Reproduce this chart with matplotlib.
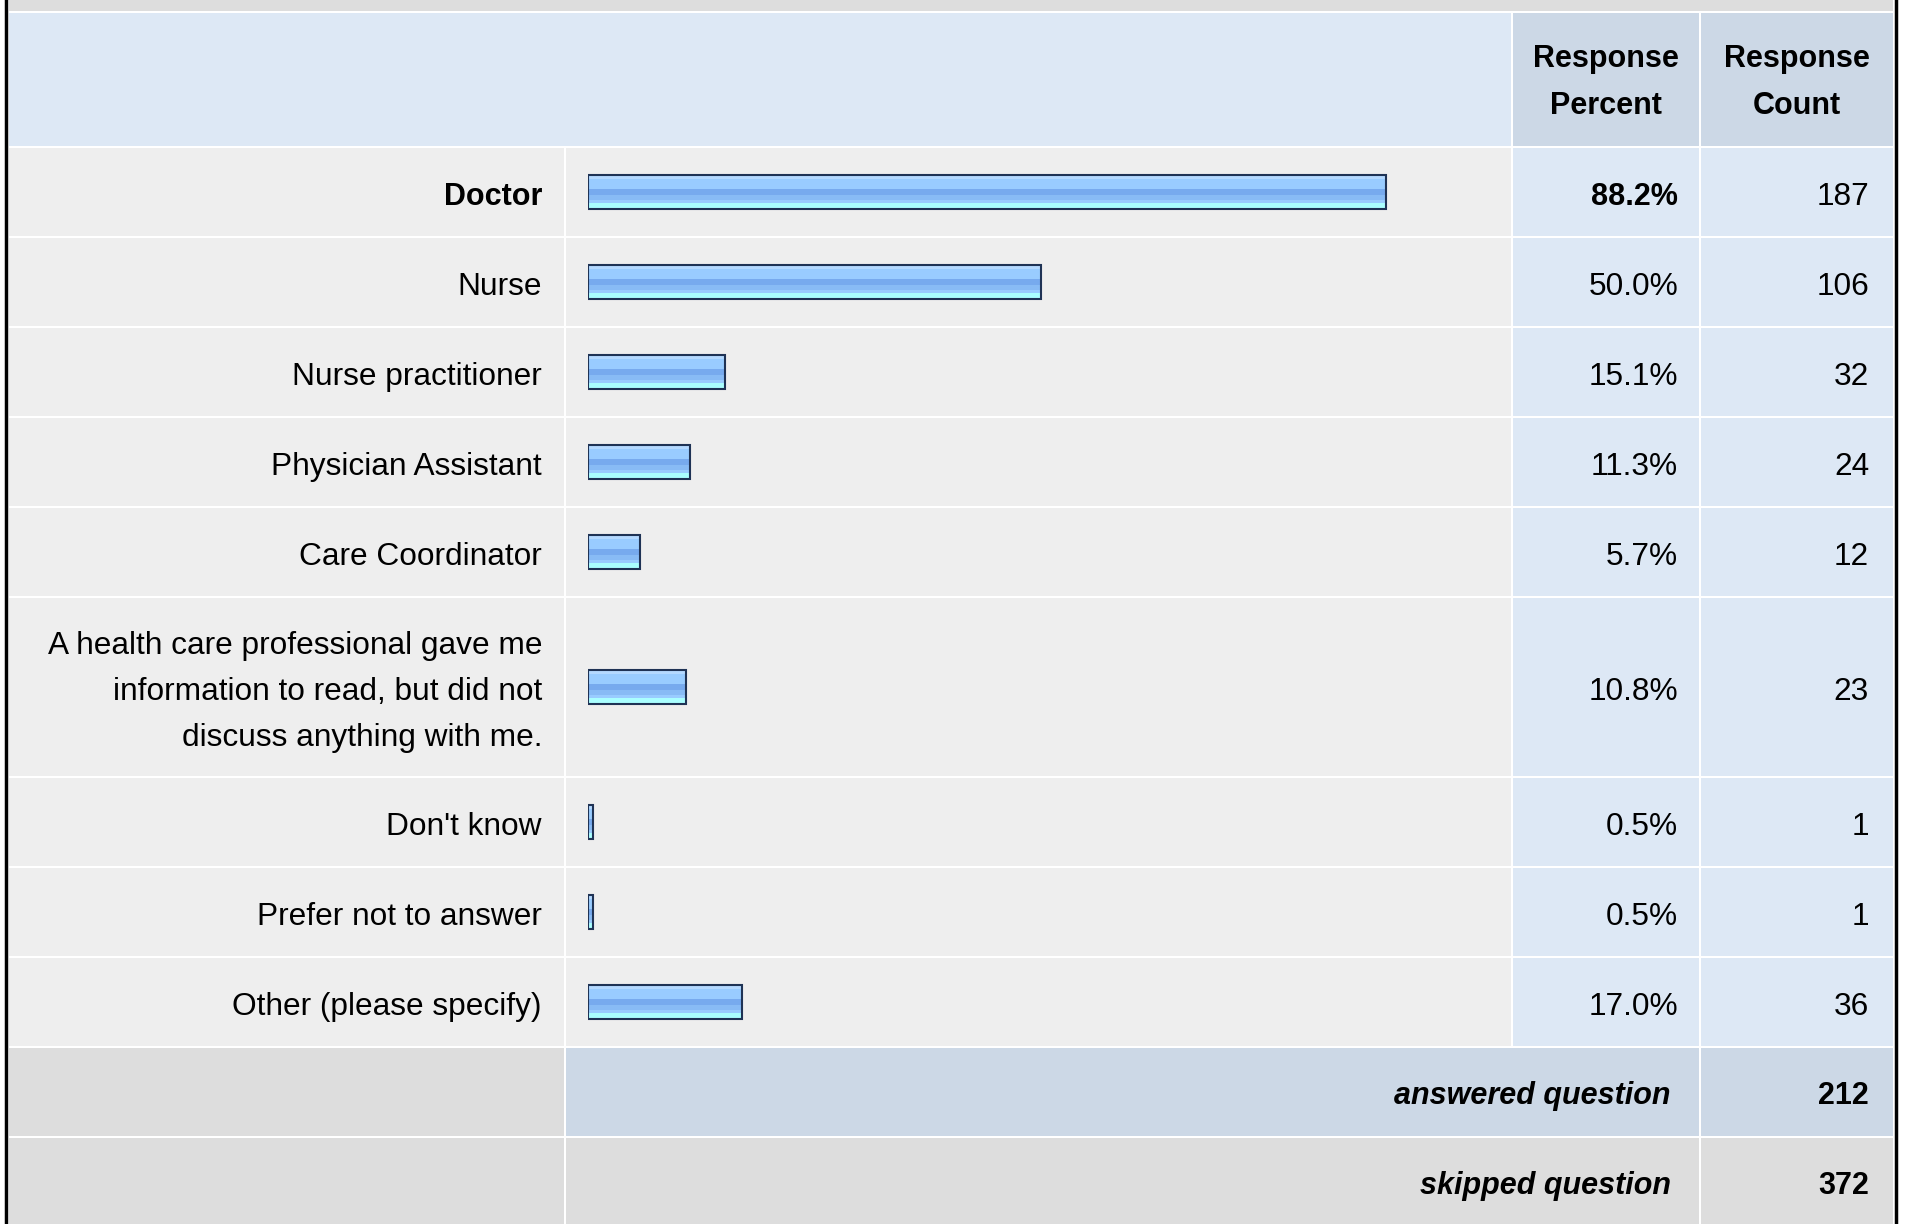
import numpy as np
import matplotlib
matplotlib.use("Agg")
import matplotlib.pyplot as plt
from matplotlib.patches import Rectangle
from matplotlib.colors import to_rgb

# Survey answers
labels = [
    "Doctor",
    "Nurse",
    "Nurse practitioner",
    "Physician Assistant",
    "Care Coordinator",
    "A health care professional gave me\ninformation to read, but did not\ndiscuss anything with me.",
    "Don't know",
    "Prefer not to answer",
    "Other (please specify)",
]
percents = [88.2, 50.0, 15.1, 11.3, 5.7, 10.8, 0.5, 0.5, 17.0]
counts = [187, 106, 32, 24, 12, 23, 1, 1, 36]
row_units = [1, 1, 1, 1, 1, 2, 1, 1, 1]
header_cols = ["Response\nPercent", "Response\nCount"]
answered = 212
skipped = 372

# Layout in pixels
W, H = 1907, 1224
X_LEFT, X_LABEL, X_PCT, X_CNT, X_RIGHT = 8, 565, 1512, 1700, 1894
Y_TOP, Y_HEAD, UNIT = 12, 147, 90
BAR_X0, BAR_FULL = 588, 905
DY = 5  # text sits a little below the cell centre

C_ROW = "#eeeeee"
C_LIGHT = "#dde8f5"
C_MID = "#ccd8e6"
C_GRAY = "#dddddd"
FONT = "Liberation Sans"
FS = 22.8
FS_BOLD = 22

# gradient stripes of the bars, top to bottom (colour, thickness)
stripes = [("#b4d9ff", 4), ("#99ccff", 10), ("#77aaee", 5), ("#88bbf5", 5),
           ("#99ccff", 3), ("#aaffff", 6)]
grad = np.array([to_rgb(c) for c, n in stripes for _ in range(n)])[:, None, :]

fig = plt.figure(figsize=(W / 100, H / 100), dpi=100)
fig.patch.set_facecolor("white")
ax = fig.add_axes([0, 0, 1, 1])
ax.set_xlim(0, W)
ax.set_ylim(H, 0)
ax.axis("off")


def cell(x0, y0, x1, y1, color):
    ax.add_patch(Rectangle((x0 + 1, y0 + 1), x1 - x0 - 2, y1 - y0 - 2,
                           facecolor=color, lw=0))


def txt(x, y, s, ha="right", weight="normal", **kw):
    fs = FS_BOLD if weight == "bold" else FS
    ax.text(x, y + DY, s, ha=ha, va="center", fontsize=fs, family=FONT,
            color="black", weight=weight, **kw)


# top band and header
cell(X_LEFT, -10, X_RIGHT, Y_TOP, C_GRAY)
cell(X_LEFT, Y_TOP, X_PCT, Y_HEAD, C_LIGHT)
cell(X_PCT, Y_TOP, X_CNT, Y_HEAD, C_MID)
cell(X_CNT, Y_TOP, X_RIGHT, Y_HEAD, C_MID)
for (x0, x1), h in zip([(X_PCT, X_CNT), (X_CNT, X_RIGHT)], header_cols):
    ax.text((x0 + x1) / 2, (Y_TOP + Y_HEAD) / 2 + 3, h, ha="center", va="center",
            fontsize=FS_BOLD, family=FONT, weight="bold", linespacing=1.7)

# data rows
tops = Y_HEAD + UNIT * np.concatenate([[0], np.cumsum(row_units)[:-1]])
centers = tops + UNIT * np.array(row_units) / 2
top_i = int(np.argmax(percents))
for i, (lab, p, c) in enumerate(zip(labels, percents, counts)):
    y0, y1 = tops[i], tops[i] + UNIT * row_units[i]
    cell(X_LEFT, y0, X_LABEL, y1, C_ROW)
    cell(X_LABEL, y0, X_PCT, y1, C_ROW)
    cell(X_PCT, y0, X_CNT, y1, C_LIGHT)
    cell(X_CNT, y0, X_RIGHT, y1, C_LIGHT)
    w = "bold" if i == top_i else "normal"
    ax.text(X_LABEL - 23, centers[i] + DY, lab, ha="right", va="center",
            fontsize=FS_BOLD if w == "bold" else FS, family=FONT, weight=w,
            linespacing=1.68)
    txt(X_CNT - 22, centers[i], f"{p:.1f}%", weight=w)
    txt(X_RIGHT - 25, centers[i], str(c))

# summary rows
y_ans = tops[-1] + UNIT * row_units[-1]
y_skip = y_ans + UNIT
cell(X_LEFT, y_ans, X_LABEL, y_skip, C_GRAY)
cell(X_LABEL, y_ans, X_CNT, y_skip, C_MID)
cell(X_CNT, y_ans, X_RIGHT, y_skip, C_MID)
cell(X_LEFT, y_skip, X_LABEL, H + 10, C_GRAY)
cell(X_LABEL, y_skip, X_CNT, H + 10, C_GRAY)
cell(X_CNT, y_skip, X_RIGHT, H + 10, C_GRAY)
txt(X_CNT - 29, y_ans + UNIT / 2 - 1, "answered question", weight="bold", style="italic")
txt(X_RIGHT - 25, y_ans + UNIT / 2 - 1, str(answered), weight="bold")
txt(X_CNT - 29, y_skip + UNIT / 2 - 1, "skipped question", weight="bold", style="italic")
txt(X_RIGHT - 25, y_skip + UNIT / 2 - 1, str(skipped), weight="bold")

# outer black borders
ax.plot([6, 6], [0, H], color="black", lw=2.5)
ax.plot([X_RIGHT + 1.5, X_RIGHT + 1.5], [0, H], color="black", lw=2.5)

# bars on their own percent scale
bax = fig.add_axes([BAR_X0 / W, 0, BAR_FULL / W, 1])
bax.set_xlim(0, 100)
bax.set_ylim(H, 0)
bax.axis("off")
bars = bax.barh(centers, percents, height=34, left=0, facecolor="none",
                edgecolor="#1f3355", lw=1.5, zorder=3)
for b in bars:
    x0, y0 = b.get_x(), b.get_y()
    im = bax.imshow(grad, extent=(x0, x0 + b.get_width(), y0 + b.get_height(), y0),
                    aspect="auto", interpolation="nearest", zorder=2)
    im.set_clip_path(b)
bax.set_xlim(0, 100)
bax.set_ylim(H, 0)

fig.savefig("out.png", dpi=100, facecolor="white")
